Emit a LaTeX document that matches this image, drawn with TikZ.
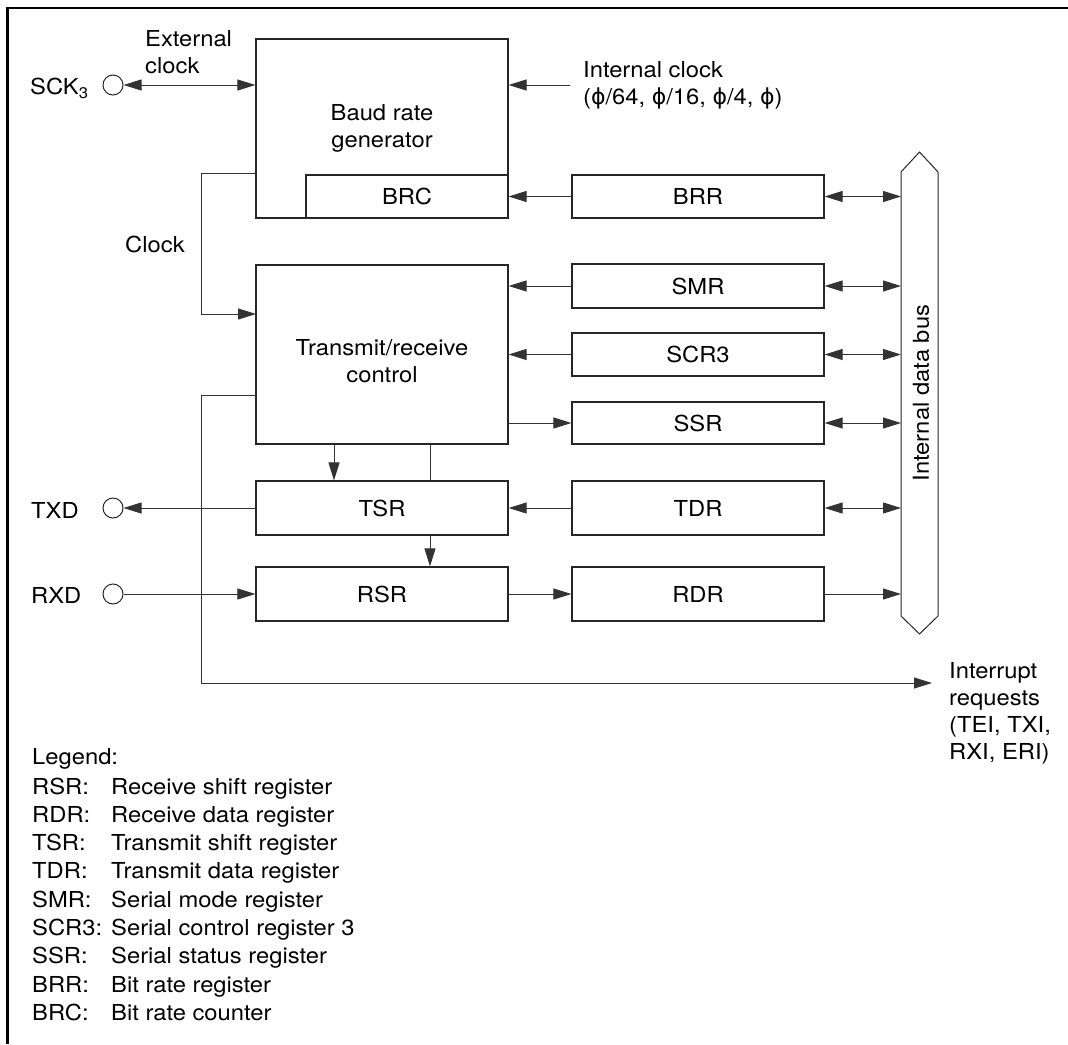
\documentclass[tikz,border=0pt]{standalone}
\usepackage{fontspec}
\setmainfont{TeX Gyre Heros}[FakeStretch=1.08]
\newfontfamily\phifont{DejaVu Sans}
\newcommand{\phisym}{{\phifont ϕ}}
\usetikzlibrary{arrows.meta,positioning}
\tikzset{
  reg/.style={draw=black!85,line width=1.2pt,minimum width=252pt,inner sep=0pt},
  arr/.style={line width=1pt,draw=black!80,->},
  dbl/.style={line width=1pt,draw=black!80,<->},
  pin/.style={circle,draw=black!85,line width=1pt,minimum size=20pt,inner sep=0pt},
  lbl/.style={inner sep=0pt,align=left}
}
\begin{document}
\begin{tikzpicture}[x=1pt,y=-1pt,line join=miter,
    font=\fontsize{22}{27}\selectfont,
    >={Triangle[length=18pt,width=11pt]}]
  \useasboundingbox (0,0) rectangle (1068,1044);
  \draw[line width=2.5pt] (7.5,1044) -- (7.5,8) -- (1068,8);
  % left column
  \node[reg,minimum height=179pt,align=center] (baud) at (382,128.5) {Baud rate\\generator};
  \node[reg,minimum width=202pt,minimum height=43pt] (brc) at (407,196.5) {BRC};
  \node[reg,minimum height=179pt] (ctrl) at (382,354.5) {};
  \node[lbl,align=center] (ctrltxt) at (382,361) {Transmit/receive\\control};
  \node[reg,minimum height=54pt] (tsr) at (382,508) {TSR};
  \node[reg,minimum height=54pt] (rsr) at (382,594) {RSR};
  % registers
  \node[reg,minimum height=43pt] (brr) at (698,196.5) {BRR};
  \node[reg,minimum height=44pt] (smr) at (698,286) {SMR};
  \node[reg,minimum height=43pt] (scr) at (698,354.5) {SCR3};
  \node[reg,minimum height=42pt] (ssr) at (698,423) {SSR};
  \node[reg,minimum height=54pt] (tdr) at (698,508) {TDR};
  \node[reg,minimum height=54pt] (rdr) at (698,594) {RDR};
  % bus
  \draw[line width=1pt,draw=black!85] (901,172) -- (919.5,152) -- (938,172)
    -- (938,616) -- (919.5,634) -- (901,616) -- cycle;
  \coordinate (bus) at (901,394);
  \node[rotate=90] (buslbl) at (921,393) {Internal data bus};
  % pins
  \node[pin] (sck) at (113,85) {};
  \node[pin] (txd) at (113,508) {};
  \node[pin] (rxd) at (113,594) {};
  \node[lbl,anchor=base west] (scklbl) at (30,94.5) {SCK\textsubscript{3}};
  \node[lbl,anchor=base west] (txdlbl) at (31,518) {TXD};
  \node[lbl,anchor=base west] (rxdlbl) at (31,603) {RXD};
  \node[lbl,anchor=base west] (extlbl) at (145,73) {External\\clock};
  \node[lbl,anchor=base west] (intlbl) at (583,104.5) {Internal clock\\(\phisym/64, \phisym/16, \phisym/4, \phisym)};
  \node[lbl,anchor=base west] (clklbl) at (125,252) {Clock};
  \node[lbl,anchor=base west] (irqlbl) at (949,759.5) {Interrupt\\requests\\(TEI, TXI,\\RXI, ERI)};
  % connectors
  \coordinate (intclk) at (570,85);
  \coordinate (clkout) at (256,173);
  \coordinate (clkin) at (256,314);
  \coordinate (irqout) at (256,395);
  \coordinate (irq) at (932,683);
  \draw[dbl] (sck) -- (sck -| baud.west);
  \draw[arr] (intclk) -- (intclk -| baud.east);
  \draw[arr] (clkout) -- ++(-55,0) |- (clkin);
  \draw[arr] (irqout) -- ++(-55,0) |- (irq);
  \draw[arr] (brr) -- (brc);
  \draw[arr] (smr) -- (smr -| ctrl.east);
  \draw[arr] (scr) -- (scr -| ctrl.east);
  \draw[arr] (ssr -| ctrl.east) -- (ssr);
  \draw[arr] (tdr) -- (tsr);
  \draw[arr] (rsr) -- (rdr);
  \draw[arr] ([xshift=-48pt]ctrl.south) -- ([xshift=-48pt]tsr.north);
  \draw[line width=1pt,draw=black!80] ([xshift=48pt]ctrl.south) -- ([xshift=48pt]tsr.north);
  \draw[arr] ([xshift=48pt]tsr.south) -- ([xshift=48pt]rsr.north);
  \draw[arr] (tsr) -- (txd);
  \draw[arr] (rxd) -- (rsr);
  \foreach \r in {brr,smr,scr,ssr,tdr}
    \draw[dbl] (\r) -- (\r -| bus);
  \draw[arr] (rdr) -- (rdr -| bus);
  % legend
  \node[lbl,anchor=base west] (legend) at (32,764) {Legend:};
  \foreach \abbr/\desc [count=\i] in {RSR/Receive shift register,
      RDR/Receive data register, TSR/Transmit shift register,
      TDR/Transmit data register, SMR/Serial mode register,
      SCR3/Serial control register 3, SSR/Serial status register,
      BRR/Bit rate register, BRC/Bit rate counter} {
    \node[lbl,anchor=base west] (abbr\i) at (32,765.7+28.3*\i) {\abbr:};
    \node[lbl,anchor=base west] (desc\i) at (111,765.7+28.3*\i) {\desc};
  }
\end{tikzpicture}
\end{document}
